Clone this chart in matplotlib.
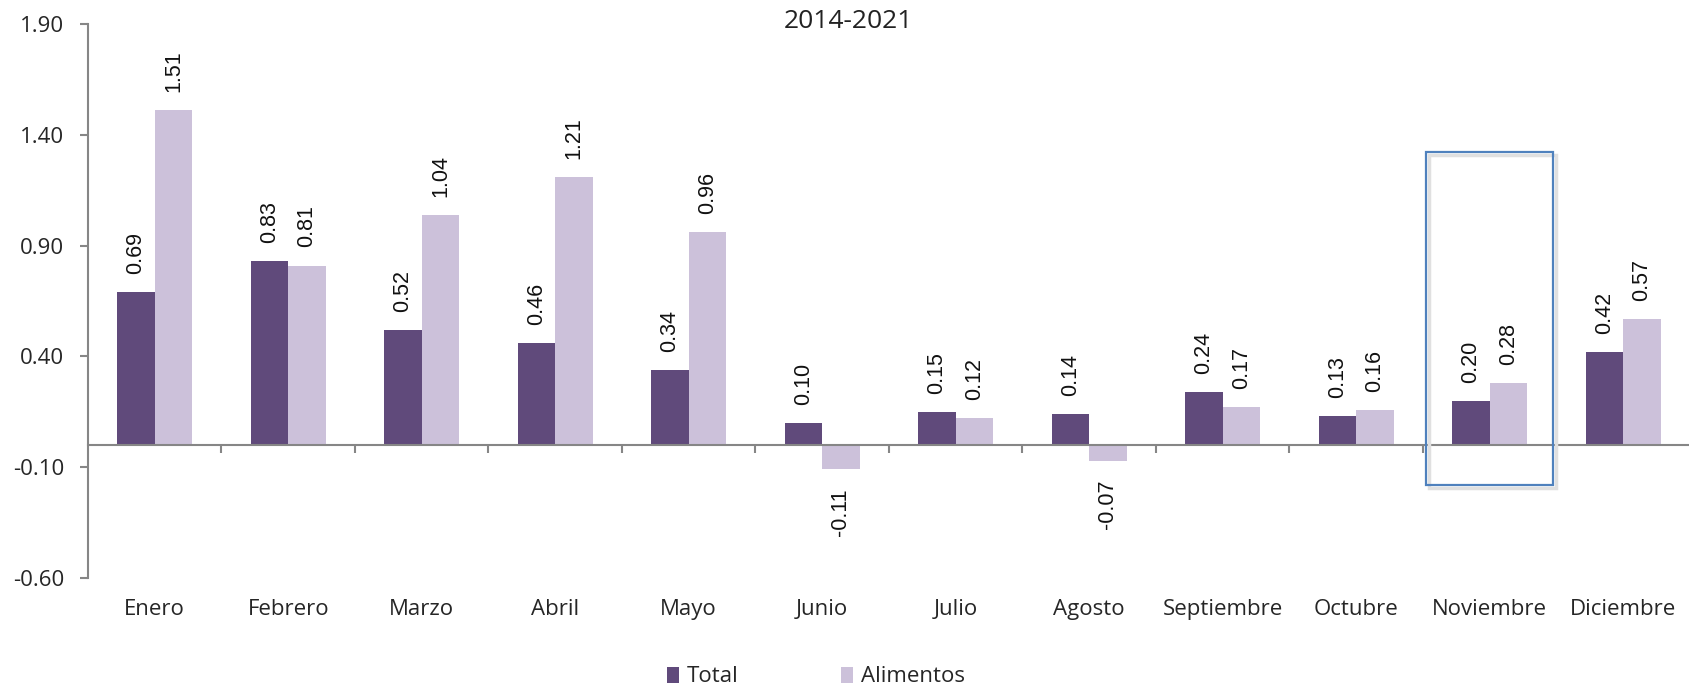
import matplotlib
matplotlib.use("Agg")
import matplotlib.pyplot as plt
from matplotlib.patches import Rectangle
from matplotlib.ticker import FixedLocator, NullFormatter
import numpy as np

months = ["Enero", "Febrero", "Marzo", "Abril", "Mayo", "Junio", "Julio",
          "Agosto", "Septiembre", "Octubre", "Noviembre", "Diciembre"]
total = [0.69, 0.83, 0.52, 0.46, 0.34, 0.10, 0.15, 0.14, 0.24, 0.13, 0.20, 0.42]
alimentos = [1.51, 0.81, 1.04, 1.21, 0.96, -0.11, 0.12, -0.07, 0.17, 0.16, 0.28, 0.57]
yticks = [-0.60, -0.10, 0.40, 0.90, 1.40, 1.90]
title = "2014-2021"
highlight = "Noviembre"

c_total = "#604a7b"
c_alim = "#ccc1da"
gray = "#868686"
txt = "#262626"
ui_font = ["Open Sans", "DejaVu Sans"]
lbl_font = ["Liberation Sans", "DejaVu Sans"]

fig = plt.figure(figsize=(16.9, 6.89), dpi=100)
ax = fig.add_axes([88/1690, (689-578)/689, 1 - 88/1690, (578-24)/689])

x = np.arange(len(months))
w = 0.28
b1 = ax.bar(x - w/2, total, w, color=c_total, label="Total", zorder=2)
b2 = ax.bar(x + w/2, alimentos, w, color=c_alim, label="Alimentos", zorder=2)

for bars, vals in ((b1, total), (b2, alimentos)):
    for r, v in zip(bars, vals):
        xc = r.get_x() + r.get_width()/2
        off = 13 if v >= 0 else -14
        ax.annotate(f"{v:.2f}", (xc, v), xytext=(0, off), textcoords="offset points",
                    rotation=90, ha="center", va="bottom" if v >= 0 else "top",
                    fontsize=15.5, family=lbl_font, color="#111111")

ax.set_xlim(-0.5, len(months) - 0.5)
ax.set_ylim(yticks[0], yticks[-1])
ax.set_yticks(yticks)
ax.set_yticklabels([f"{t:.2f}" for t in yticks], family=ui_font, fontsize=16, color=txt)

for s in ("top", "right"):
    ax.spines[s].set_visible(False)
ax.spines["left"].set_color(gray)
ax.spines["left"].set_linewidth(1.5)
ax.spines["bottom"].set_position(("data", 0))
ax.spines["bottom"].set_color(gray)
ax.spines["bottom"].set_linewidth(1.5)
ax.tick_params(axis="y", direction="out", length=6, width=1.5, color=gray, pad=11)

ax.set_xticks(x)
ax.set_xticklabels(months, family=ui_font, fontsize=16, color=txt)
ax.tick_params(axis="x", which="major", length=0, pad=111)
ax.xaxis.set_minor_locator(FixedLocator(np.arange(0.5, len(months) - 0.5, 1.0)))
ax.xaxis.set_minor_formatter(NullFormatter())
ax.tick_params(axis="x", which="minor", direction="out", length=6, width=1.5, color=gray)

# highlight box
i = months.index(highlight)
shadow = Rectangle((i - 0.475 + 0.02, -0.181 - 0.012), 0.95, 1.323 + 0.181, fill=False,
                   edgecolor="#e0e0e0", linewidth=2.5, zorder=3, clip_on=False)
ax.add_patch(shadow)
box = Rectangle((i - 0.475, -0.181), 0.95, 1.323 + 0.181, fill=False,
                edgecolor="#4f81bd", linewidth=1.6, zorder=4, clip_on=False)
ax.add_patch(box)

fig.text(848/1690, 1 - 22/689, title, ha="center", va="center",
         family=ui_font, fontsize=19, color="#222222")

leg = fig.legend(handles=[b1, b2], labels=["Total", "Alimentos"], loc="center",
                 bbox_to_anchor=(816/1690, 1 - 677/689), ncol=2, frameon=False,
                 prop={"family": ui_font, "size": 16}, handlelength=0.55,
                 handleheight=0.7, handletextpad=0.35, columnspacing=4.6)
for t in leg.get_texts():
    t.set_color(txt)

fig.savefig("out.png", dpi=100)
